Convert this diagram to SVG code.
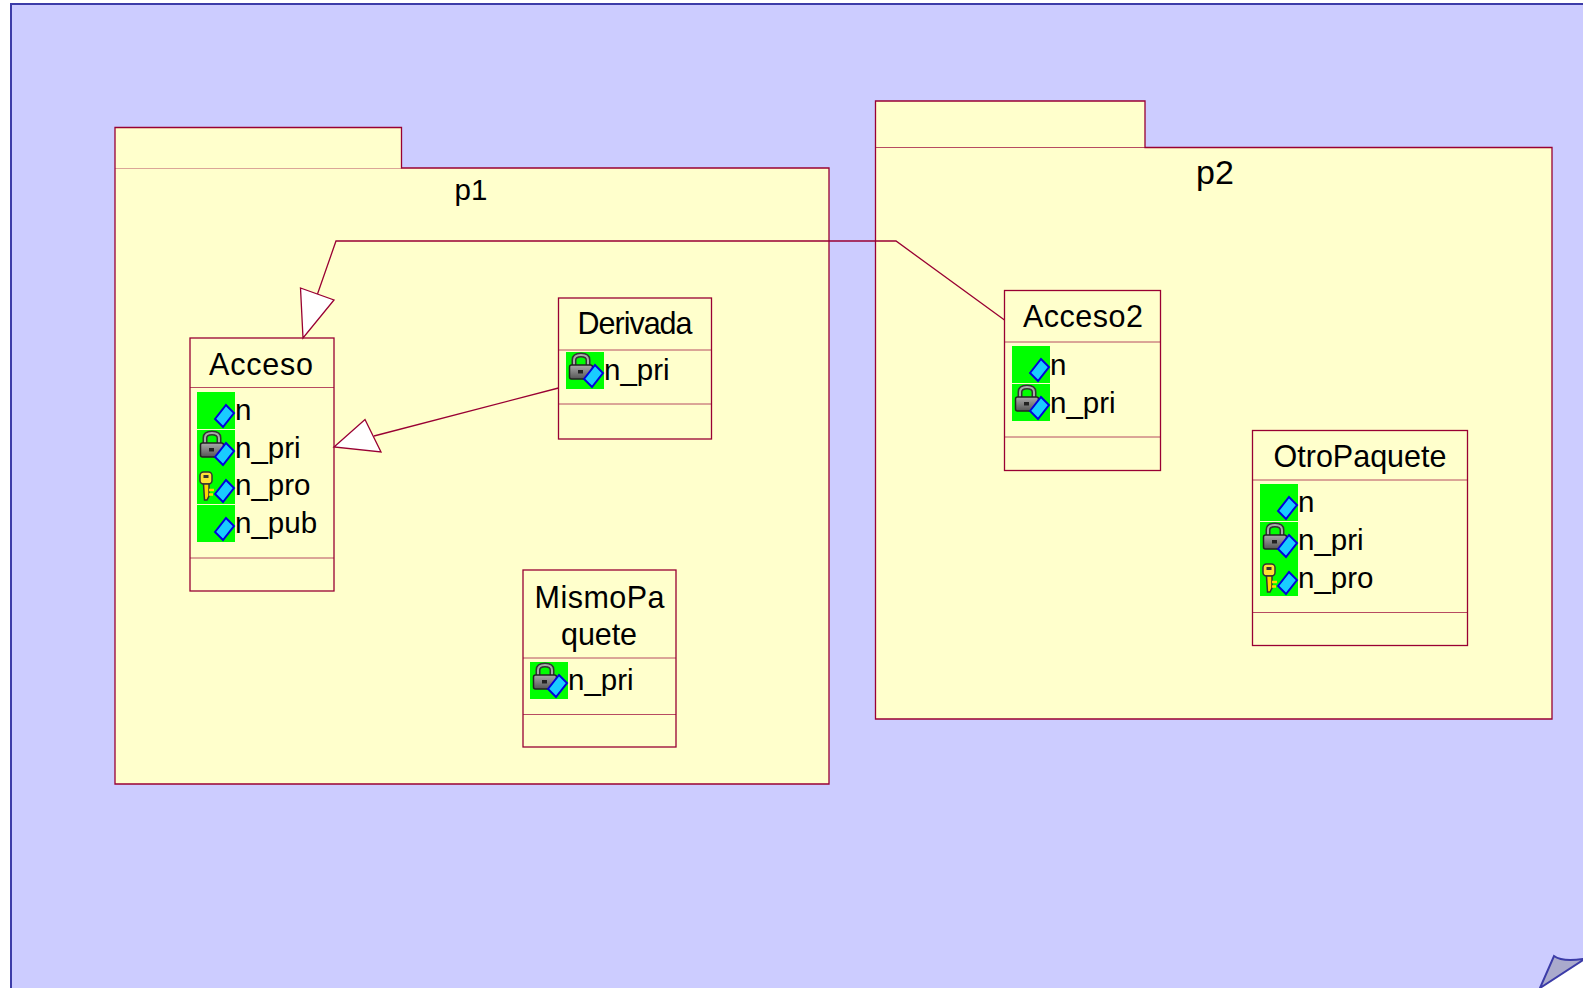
<svg xmlns="http://www.w3.org/2000/svg" width="1583" height="988" viewBox="0 0 1583 988">
<style>
.box{fill:#ffffcc;stroke:#990033;stroke-width:1.3}
.sep{stroke:#990033;stroke-width:1;fill:none;opacity:.7}
.edge{fill:none;stroke:#990033;stroke-width:1.3}
.head{fill:#ffffff;stroke:#990033;stroke-width:1.3;stroke-linejoin:miter}
text{font-family:"Liberation Sans",Arial,sans-serif;fill:#000}
.name{font-size:30.500px;text-anchor:middle}
.attr{font-size:29.500px}
.pk{text-anchor:middle}
</style>
<defs>
<linearGradient id="metal" x1="0" y1="0" x2="0" y2="1"><stop offset="0" stop-color="#aaa"/><stop offset="1" stop-color="#555"/></linearGradient>
<g id="dia"><path d="M18 27 L29 13 L37 21 L26 35 Z" fill="#19ccff" stroke="#0000dd" stroke-width="2"/></g>
<g id="pub"><rect width="38" height="37" fill="#00ff00"/><use href="#dia"/></g>
<g id="pri"><rect width="38" height="37" fill="#00ff00"/>
<path d="M8 13 V8 Q8 3 15 3 Q22 3 22 8 V13" fill="none" stroke="#333" stroke-width="5"/>
<path d="M8 13 V8 Q8 3 15 3 Q22 3 22 8 V13" fill="none" stroke="#aaa" stroke-width="2"/>
<rect x="3.500" y="13" width="23" height="14" rx="2" fill="url(#metal)" stroke="#222" stroke-width="1.500"/>
<rect x="12" y="18" width="5" height="3.500" fill="#222"/><use href="#dia"/></g>
<g id="pro"><rect width="38" height="37" fill="#00ff00"/>
<rect x="3" y="5" width="12" height="12" rx="3.500" fill="#ffe135" stroke="#333" stroke-width="1.500"/><rect x="6.500" y="8" width="5" height="3" fill="#333"/>
<path d="M6.500 17 H12 V29 L10 33 H7.500 Z" fill="#ffd700" stroke="#333" stroke-width="1.500"/>
<path d="M12 23 H17 M12 27.500 H16" stroke="#ffd700" stroke-width="2.500"/><use href="#dia"/></g>
</defs>
<rect id="background" x="11" y="4" width="1600" height="1020" fill="#ccccff" stroke="#3c3ca8" stroke-width="2"/>
<g id="fold">
<path d="M1540 988 L1583 960 V988 Z" fill="#ffffff"/>
<path d="M1540 988 L1554 956 Q1562 962 1583 959 V960 Z" fill="#aaaacc" stroke="#3c3ca8" stroke-width="2"/>
</g>
<g id="p1">
<path class="box" d="M115 127.500 H401.500 V168 H829 V784 H115 Z"/>
<path class="sep" d="M115 168.500 H401.500" stroke-opacity=".5"/>
<text class="pk" x="471" y="200" style="font-size:29.500px">p1</text>
</g>
<g id="p2">
<path class="box" d="M875.500 101 H1145 V147.500 H1552 V719 H875.500 Z"/>
<path class="sep" d="M875.500 147.500 H1145"/>
<text class="pk" x="1215" y="184" style="font-size:34px">p2</text>
</g>
<g id="connectors">
<path class="edge" d="M1004.500 320 L896 241 H336 L317.500 294"/>
<path class="edge" d="M558.500 388 L374 436"/>
</g>
<g id="Acceso">
<rect class="box" x="190" y="338" width="144" height="253"/>
<path class="sep" d="M190 387.500 H334 M190 558 H334"/>
<text class="name" x="261" y="375" textLength="104">Acceso</text>
<use href="#pub" x="197" y="392"/><text class="attr" x="235" y="420">n</text>
<use href="#pri" x="197" y="430"/><text class="attr" x="235" y="458">n_pri</text>
<use href="#pro" x="197" y="467"/><text class="attr" x="235" y="495">n_pro</text>
<use href="#pub" x="197" y="505"/><text class="attr" x="235" y="533">n_pub</text>
</g>
<g id="Derivada">
<rect class="box" x="558.500" y="298" width="153" height="141"/>
<path class="sep" d="M558.500 350 H711.500 M558.500 404 H711.500"/>
<text class="name" x="635" y="334" textLength="115">Derivada</text>
<use href="#pri" x="566" y="352"/><text class="attr" x="604" y="380">n_pri</text>
</g>
<g id="MismoPaquete">
<rect class="box" x="523" y="570" width="153" height="177"/>
<path class="sep" d="M523 658 H676 M523 714.500 H676"/>
<text class="name" x="599.500" y="608" textLength="130">MismoPa</text>
<text class="name" x="599" y="645" textLength="76">quete</text>
<use href="#pri" x="530" y="662"/><text class="attr" x="568" y="690">n_pri</text>
</g>
<g id="Acceso2">
<rect class="box" x="1004.500" y="290.500" width="156" height="180"/>
<path class="sep" d="M1004.500 342 H1160.500 M1004.500 437 H1160.500"/>
<text class="name" x="1083" y="327" textLength="120">Acceso2</text>
<use href="#pub" x="1012" y="346"/><text class="attr" x="1050" y="375">n</text>
<use href="#pri" x="1012" y="384"/><text class="attr" x="1050" y="413">n_pri</text>
</g>
<g id="OtroPaquete">
<rect class="box" x="1252.500" y="430.500" width="215" height="215"/>
<path class="sep" d="M1252.500 480 H1467.500 M1252.500 612.500 H1467.500"/>
<text class="name" x="1360" y="467" textLength="173">OtroPaquete</text>
<use href="#pub" x="1260" y="484"/><text class="attr" x="1298" y="512">n</text>
<use href="#pri" x="1260" y="522"/><text class="attr" x="1298" y="550">n_pri</text>
<use href="#pro" x="1260" y="559"/><text class="attr" x="1298" y="588">n_pro</text>
</g>
<g id="arrowheads">
<path class="head" d="M300.500 288 L334 300 L303 338 Z"/>
<path class="head" d="M334 447 L365 419.500 L381 452 Z"/>
</g>
</svg>
